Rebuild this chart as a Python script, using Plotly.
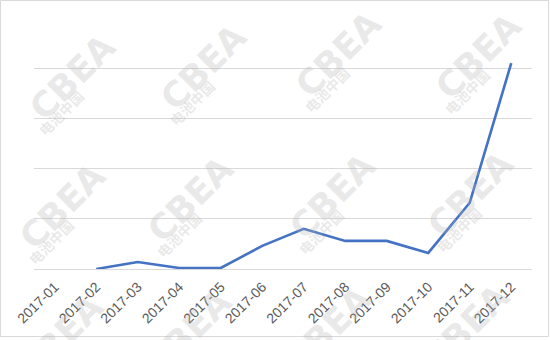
import plotly.graph_objects as go

months = ["2017-01", "2017-02", "2017-03", "2017-04", "2017-05", "2017-06",
          "2017-07", "2017-08", "2017-09", "2017-10", "2017-11", "2017-12"]
values = [None, 0, 14, 2, 2, 46, 80, 56, 56, 32, 132, 410]
grid_max = 500
grid_step = 100

# watermark logo centres (pixels) – decoration
wm_x = [[72, 203, 338, 478], [62, 190, 332, 470], [60, 188, 328, 466]]
wm_y = [[78, 68, 55, 57], [207, 200, 197, 195], [338, 333, 330, 328]]

W, H = 550, 340
L, R, T, B = 34, 18, 18, 71
pw, ph = W - L - R, H - T - B

def px(x):
    return (x - L) / pw

def py(y):
    return (H - B - y) / ph

fig = go.Figure()
fig.add_trace(go.Scatter(
    x=list(range(len(months))), y=values, mode="lines",
    line=dict(color="#4472C4", width=2.6), connectgaps=False,
    hoverinfo="skip", showlegend=False))

annotations = []
for row_x, row_y in zip(wm_x, wm_y):
    for cx, cy in zip(row_x, row_y):
        annotations.append(dict(
            x=px(cx), y=py(cy), xref="paper", yref="paper", text="<b>CBEA</b>",
            showarrow=False, textangle=-45,
            font=dict(family="DejaVu Sans", size=35, color="rgba(180,180,180,0.3)"),
            xanchor="center", yanchor="middle"))
        annotations.append(dict(
            x=px(cx - 11), y=py(cy + 35), xref="paper", yref="paper", text="<b>电池中国</b>",
            showarrow=False, textangle=-45,
            font=dict(family="Noto Sans CJK SC", size=14, color="rgba(180,180,180,0.3)"),
            xanchor="center", yanchor="middle"))

fig.update_layout(
    width=W, height=H,
    margin=dict(l=L, r=R, t=T, b=B, pad=0),
    paper_bgcolor="white", plot_bgcolor="white",
    xaxis=dict(
        range=[-0.5, len(months) - 0.5], tickmode="array",
        tickvals=list(range(len(months))), ticktext=months,
        tickangle=-45, showgrid=False, zeroline=False, showline=False,
        ticks="", ticklabelstandoff=6,
        tickfont=dict(family="Liberation Sans", size=14, color="#595959")),
    yaxis=dict(
        range=[0, grid_max], dtick=grid_step, showticklabels=False,
        showgrid=True, gridcolor="#d9d9d9", gridwidth=1,
        zeroline=True, zerolinecolor="#d9d9d9", zerolinewidth=1,
        showline=False, ticks=""),
    shapes=[dict(type="rect", xref="paper", yref="paper",
                 x0=px(0.5), x1=px(548.5), y0=py(336.5), y1=py(0.5),
                 line=dict(color="#d9d9d9", width=1), fillcolor="rgba(0,0,0,0)",
                 layer="below")],
    annotations=annotations,
)

fig.write_html("out.html")
